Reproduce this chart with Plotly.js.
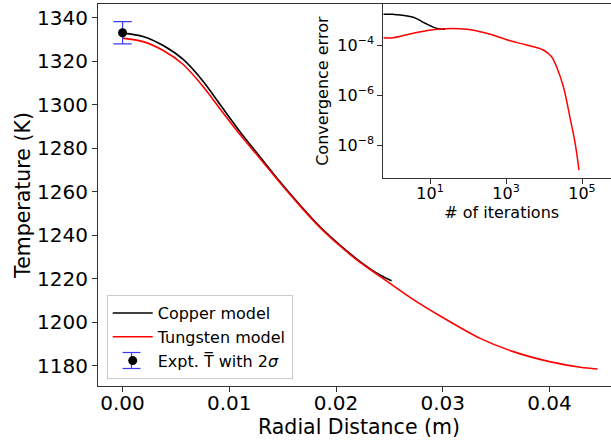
<!DOCTYPE html>
<html>
<head>
<meta charset="utf-8">
<script src="https://cdn.plot.ly/plotly-3.0.1.min.js"></script>
<style>
html,body{margin:0;padding:0;overflow:hidden;background:#fff;}
#chart{width:625px;height:442px;}
</style>
</head>
<body>
<div id="chart"></div>
<script>
// Main chart data: radial distance (m) vs temperature (K)
const copperX = [0, 0.00193, 0.00381, 0.00568, 0.00756, 0.00912, 0.011, 0.01287, 0.01475, 0.01662, 0.0185, 0.02037, 0.02225, 0.02412, 0.0252];
const copperT = [1333.0, 1331.5, 1327.3, 1320.9, 1310.8, 1300.3, 1287.7, 1276.2, 1264.7, 1254.0, 1244.0, 1235.6, 1228.0, 1221.8, 1219.2];
const tungstenX = [0, 0.00193, 0.00381, 0.00568, 0.00756, 0.00912, 0.011, 0.01287, 0.01475, 0.01662, 0.0185, 0.02037, 0.02225, 0.02412, 0.0271, 0.030, 0.0335, 0.0366, 0.040, 0.0429, 0.0445];
const tungstenT = [1330.7, 1329.1, 1325.0, 1318.6, 1308.4, 1298.3, 1286.4, 1275.4, 1264.2, 1253.6, 1243.6, 1235.2, 1227.6, 1221.2, 1211.0, 1202.3, 1192.7, 1186.6, 1182.0, 1179.4, 1178.6];
const exptX = [0];
const exptT = [1333.2];
const exptErr = [5.1];

// Inset data: iterations vs convergence error
const copperIter = [0.589, 1.07, 3.63, 7.41, 15.1, 25];
const copperErr = [1.70e-3, 1.68e-3, 1.29e-3, 7.4e-4, 4.6e-4, 4.27e-4];
const tungstenIter = [0.589, 1.07, 3.63, 15.1, 93.3, 309, 1288, 3467, 9550, 15850, 21380, 32360, 47860, 66070, 83180];
const tungstenErr = [1.95e-4, 1.95e-4, 2.95e-4, 4.27e-4, 4.27e-4, 2.95e-4, 1.48e-4, 1.0e-4, 6.31e-5, 3.39e-5, 1.35e-5, 2.14e-6, 1.35e-7, 1.17e-8, 1.0e-9];

// Tick labels
const mainXTicks = [0, 0.01, 0.02, 0.03, 0.04];
const mainXLabels = ['0.00', '0.01', '0.02', '0.03', '0.04'];
const mainYTicks = [1180, 1200, 1220, 1240, 1260, 1280, 1300, 1320, 1340];
const insetXTicks = [10, 1000, 100000];
const insetXLabels = ['10<sup>1</sup>', '10<sup>3</sup>', '10<sup>5</sup>'];
const insetYTicks = [1e-4, 1e-6, 1e-8];
const insetYLabels = ['10<sup>\u22124</sup>', '10<sup>\u22126</sup>', '10<sup>\u22128</sup>'];

const FONT = 'DejaVu Sans, sans-serif';
const AX = '#333';
const ERRCOL = '#3a3aff';

// legend error-bar glyph (paper coordinates; drawn under the transparent legend)
const plotL = 98, plotB = 386, plotW = 522, plotH = 382;
function px2paperX(px) { return (px - plotL) / plotW; }
function px2paperY(py) { return (plotB - py) / plotH; }
const gx = 131.5, gy = 360.5, gh = 8, gw = 9;
const legendGlyph = [
  {type: 'line', xref: 'paper', yref: 'paper', x0: px2paperX(gx), x1: px2paperX(gx), y0: px2paperY(gy - gh), y1: px2paperY(gy + gh), line: {color: ERRCOL, width: 1.2}},
  {type: 'line', xref: 'paper', yref: 'paper', x0: px2paperX(gx - gw), x1: px2paperX(gx + gw), y0: px2paperY(gy - gh), y1: px2paperY(gy - gh), line: {color: ERRCOL, width: 1.2}},
  {type: 'line', xref: 'paper', yref: 'paper', x0: px2paperX(gx - gw), x1: px2paperX(gx + gw), y0: px2paperY(gy + gh), y1: px2paperY(gy + gh), line: {color: ERRCOL, width: 1.2}}
];

const traces = [
  {x: copperX, y: copperT, mode: 'lines', name: 'Copper model',
   line: {color: '#000', width: 1.6, shape: 'spline', smoothing: 0.8}, xaxis: 'x', yaxis: 'y'},
  {x: tungstenX, y: tungstenT, mode: 'lines', name: 'Tungsten model',
   line: {color: '#ff0000', width: 1.6, shape: 'spline', smoothing: 0.8}, xaxis: 'x', yaxis: 'y'},
  {x: exptX, y: exptT, mode: 'markers', name: 'Expt. T\u0305 with 2<i>\u03c3</i>',
   marker: {color: '#000', size: 9},
   error_y: {type: 'data', array: exptErr, visible: true, color: ERRCOL, thickness: 1.2, width: 9.2},
   xaxis: 'x', yaxis: 'y'},
  {x: copperIter, y: copperErr, mode: 'lines', showlegend: false,
   line: {color: '#000', width: 1.5, shape: 'spline', smoothing: 1}, xaxis: 'x2', yaxis: 'y2'},
  {x: tungstenIter, y: tungstenErr, mode: 'lines', showlegend: false,
   line: {color: '#ff0000', width: 1.5, shape: 'spline', smoothing: 1}, xaxis: 'x2', yaxis: 'y2'}
];

const layout = {
  width: 625, height: 442,
  margin: {l: 98, r: 5, t: 4, b: 56, pad: 0},
  paper_bgcolor: '#fff', plot_bgcolor: 'rgba(0,0,0,0)',
  font: {family: FONT, color: '#000'},
  showlegend: true,
  shapes: legendGlyph,
  legend: {
    x: 0.0167, y: 0.018, xanchor: 'left', yanchor: 'bottom',
    font: {family: FONT, size: 16, color: '#000'},
    bgcolor: 'rgba(255,255,255,0)', bordercolor: '#cccccc', borderwidth: 1,
    itemwidth: 40, tracegroupgap: 0
  },
  xaxis: {
    domain: [0, 1], range: [-0.0023, 0.0466],
    showgrid: false, zeroline: false,
    showline: true, linecolor: AX, linewidth: 1, mirror: true,
    ticks: 'outside', ticklen: 5, tickcolor: AX, tickwidth: 1,
    tickvals: mainXTicks, ticktext: mainXLabels, ticklabelstandoff: -6,
    tickfont: {family: FONT, size: 20, color: '#000'},
    title: {text: 'Radial Distance (m)', font: {family: FONT, size: 20.5, color: '#000'}, standoff: 3}
  },
  yaxis: {
    domain: [0, 1], range: [1170.8, 1346.4],
    showgrid: false, zeroline: false,
    showline: true, linecolor: AX, linewidth: 1, mirror: true,
    ticks: 'outside', ticklen: 5, tickcolor: AX, tickwidth: 1,
    tickvals: mainYTicks,
    tickfont: {family: FONT, size: 20, color: '#000'},
    title: {text: 'Temperature (K)', font: {family: FONT, size: 20.5, color: '#000'}, standoff: 0}
  },
  xaxis2: {
    type: 'log', domain: [0.5466, 1], anchor: 'y2', range: [-0.23, 6.0],
    showgrid: false, zeroline: false,
    showline: true, linecolor: AX, linewidth: 1, mirror: true,
    ticks: 'outside', ticklen: 5, tickcolor: AX, tickwidth: 1,
    tickvals: insetXTicks, ticktext: insetXLabels, ticklabelstandoff: -5,
    tickfont: {family: FONT, size: 16, color: '#000'},
    title: {text: '# of iterations', font: {family: FONT, size: 16, color: '#000'}, standoff: 0}
  },
  yaxis2: {
    type: 'log', domain: [0.5437, 1], anchor: 'x2', range: [-9.33, -2.36],
    showgrid: false, zeroline: false,
    showline: true, linecolor: AX, linewidth: 1, mirror: true,
    ticks: 'outside', ticklen: 5, tickcolor: AX, tickwidth: 1,
    tickvals: insetYTicks, ticktext: insetYLabels,
    tickfont: {family: FONT, size: 16, color: '#000'},
    title: {text: 'Convergence error', font: {family: FONT, size: 16, color: '#000'}, standoff: 4}
  }
};

Plotly.newPlot('chart', traces, layout, {displayModeBar: false, staticPlot: true});
</script>
</body>
</html>
